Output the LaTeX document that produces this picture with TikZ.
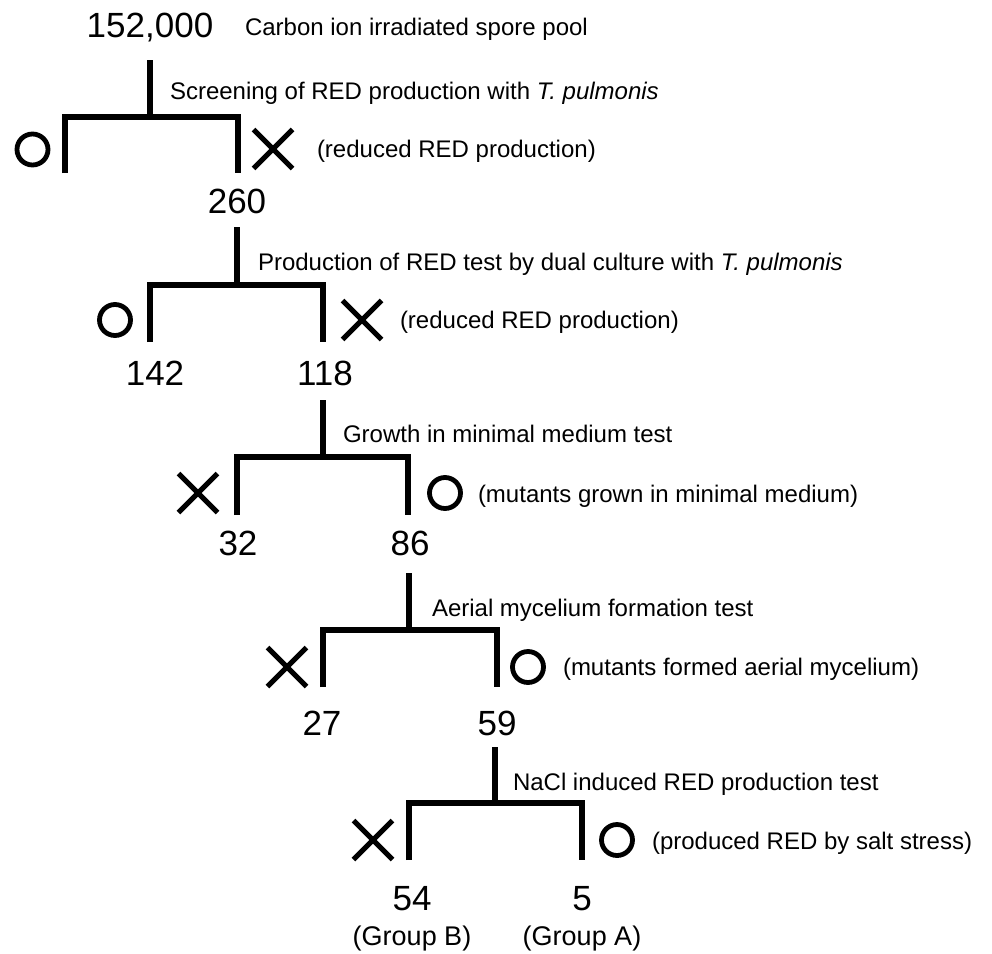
\documentclass[tikz,border=0pt]{standalone}
\usepackage{fontspec}
\setmainfont{Liberation Sans}
\usetikzlibrary{shapes.misc}
\begin{document}
\begin{tikzpicture}[x=1pt,y=-1pt,
  num/.style={anchor=base,inner sep=0pt,outer sep=0pt,font=\fontsize{35}{40}\selectfont},
  grp/.style={anchor=base,inner sep=0pt,outer sep=0pt,font=\fontsize{27}{32}\selectfont},
  lbl/.style={anchor=base west,inner sep=0pt,outer sep=0pt,font=\fontsize{24}{28}\selectfont},
  okmark/.style={circle,draw,line width=4.8pt,minimum size=31pt,inner sep=0pt},
  ngmark/.style={cross out,draw,line width=5pt,minimum size=34pt,inner sep=0pt},
  tree/.style={line width=5.5pt,line join=miter}]
\useasboundingbox (0,0) rectangle (992,953);

% numbers
\node[num] (n0) at (150,37) {152,000};
\node[num] (n1) at (237,213) {260};
\node[num] (n2a) at (155,385) {142};
\node[num] (n2b) at (325,385) {118};
\node[num] (n3a) at (238,555) {32};
\node[num] (n3b) at (410,555) {86};
\node[num] (n4a) at (322,735) {27};
\node[num] (n4b) at (497,735) {59};
\node[num] (n5a) at (412,910) {54};
\node[num] (n5b) at (582,910) {5};
\node[grp] (gB) at (412,945) {(Group B)};
\node[grp] (gA) at (582,945) {(Group A)};

% labels
\node[lbl] (t0) at (245,35) {Carbon ion irradiated spore pool};
\node[lbl] (t1) at (170,99) {Screening of RED production with \textit{T. pulmonis}};
\node[lbl] (r1) at (317,157) {(reduced RED production)};
\node[lbl] (t2) at (258,270) {Production of RED test by dual culture with \textit{T. pulmonis}};
\node[lbl] (r2) at (400,328) {(reduced RED production)};
\node[lbl] (t3) at (343,442) {Growth in minimal medium test};
\node[lbl] (r3) at (478,502) {(mutants grown in minimal medium)};
\node[lbl] (t4) at (432,616) {Aerial mycelium formation test};
\node[lbl] (r4) at (563,675) {(mutants formed aerial mycelium)};
\node[lbl] (t5) at (513,790) {NaCl induced RED production test};
\node[lbl] (r5) at (652,849) {(produced RED by salt stress)};

% marks
\node[okmark] (o1) at (32.5,149.5) {};
\node[ngmark] (x1) at (273,149) {};
\node[okmark] (o2) at (115,320) {};
\node[ngmark] (x2) at (362,320) {};
\node[ngmark] (x3) at (198,493) {};
\node[okmark] (o3) at (445,493) {};
\node[ngmark] (x4) at (287,667) {};
\node[okmark] (o4) at (528,667) {};
\node[ngmark] (x5) at (373,840) {};
\node[okmark] (o5) at (617,840) {};

% tree coordinates
\coordinate (s1) at (150,60);  \coordinate (j1) at (150,117);
\coordinate (l1) at (65,117);  \coordinate (k1) at (238,117);
\coordinate (le1) at (65,173); \coordinate (re1) at (238,173);

\coordinate (s2) at (237,227); \coordinate (j2) at (237,285);
\coordinate (l2) at (150,285); \coordinate (k2) at (323,285);
\coordinate (le2) at (150,342); \coordinate (re2) at (323,342);

\coordinate (s3) at (323,400); \coordinate (j3) at (323,457);
\coordinate (l3) at (237,457); \coordinate (k3) at (408,457);
\coordinate (le3) at (237,515); \coordinate (re3) at (408,515);

\coordinate (s4) at (409,573); \coordinate (j4) at (409,630);
\coordinate (l4) at (323,630); \coordinate (k4) at (497,630);
\coordinate (le4) at (323,687); \coordinate (re4) at (497,687);

\coordinate (s5) at (495,747); \coordinate (j5) at (495,803);
\coordinate (l5) at (409,803); \coordinate (k5) at (582,803);
\coordinate (le5) at (409,860); \coordinate (re5) at (582,860);

\foreach \i in {1,...,5}{
  \draw[tree] (s\i) -- (j\i);
  \draw[tree] (le\i) -- (l\i) -- (k\i) -- (re\i);
}
\end{tikzpicture}
\end{document}
